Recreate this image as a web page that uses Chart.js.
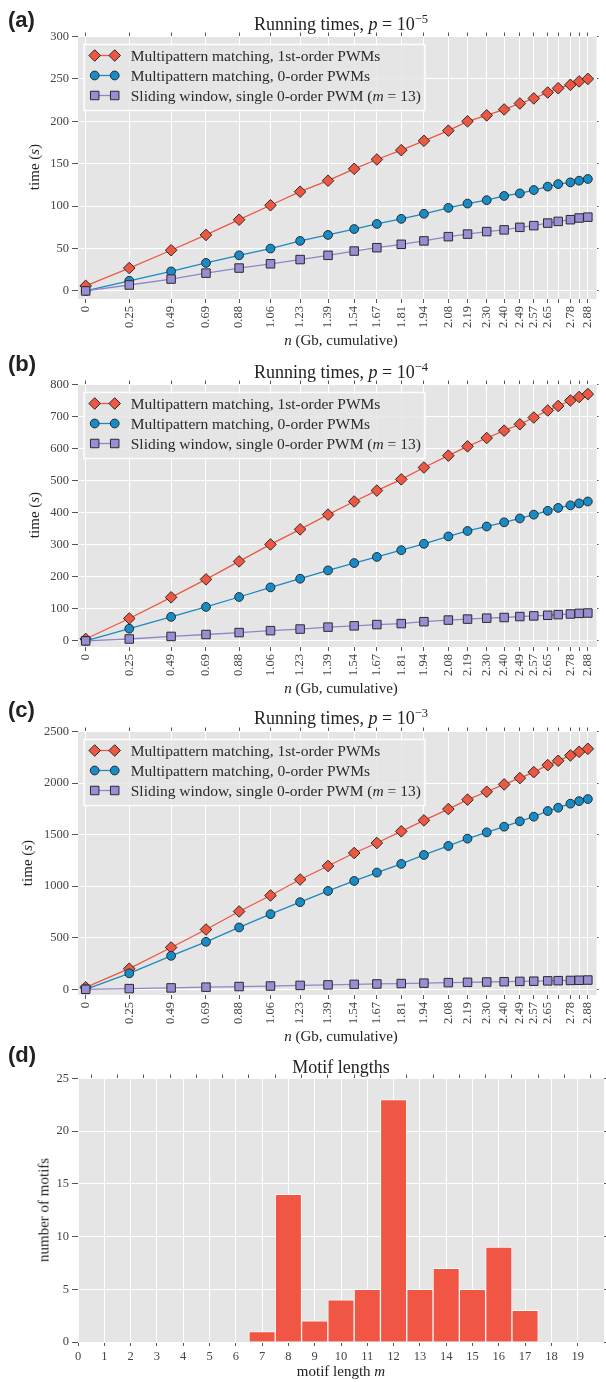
<!DOCTYPE html>
<html><head><meta charset="utf-8">
<script src="https://cdn.jsdelivr.net/npm/chart.js@4.4.1/dist/chart.umd.min.js"></script>
<style>
body{margin:0;width:606px;height:1382px;position:relative;overflow:hidden;background:#fff;font-family:"Liberation Serif",serif;color:#222}
canvas{position:absolute;left:0}
.t{position:absolute;white-space:nowrap;line-height:1;transform:translateX(-50%);left:341px}
.ttl{font-size:18px}
.ax{font-size:15px}
.yl{position:absolute;white-space:nowrap;line-height:1;font-size:15px;transform:translate(-50%,-50%) rotate(-90deg)}
.pl{position:absolute;left:8px;font:bold 22px "Liberation Sans",Arial,sans-serif;line-height:1;color:#222}
sup{font-size:70%;vertical-align:0;position:relative;top:-0.55em}
</style></head>
<body>
<canvas id="ca" width="606" height="313" style="top:26px"></canvas>
<canvas id="cb" width="606" height="313" style="top:374px"></canvas>
<canvas id="cc" width="606" height="314" style="top:721px"></canvas>
<canvas id="cd" width="606" height="298" style="top:1068px"></canvas>

<div class="pl" style="top:9px">(a)</div>
<div class="t ttl" style="top:15px">Running times, <i>p</i> = 10<sup>−5</sup></div>
<div class="yl" style="left:34px;top:167px">time (<i>s</i>)</div>
<div class="t ax" style="top:333px"><i>n</i> (Gb, cumulative)</div>

<div class="pl" style="top:353px">(b)</div>
<div class="t ttl" style="top:363px">Running times, <i>p</i> = 10<sup>−4</sup></div>
<div class="yl" style="left:34px;top:515px">time (<i>s</i>)</div>
<div class="t ax" style="top:681px"><i>n</i> (Gb, cumulative)</div>

<div class="pl" style="top:699px">(c)</div>
<div class="t ttl" style="top:709px">Running times, <i>p</i> = 10<sup>−3</sup></div>
<div class="yl" style="left:27px;top:863px">time (<i>s</i>)</div>
<div class="t ax" style="top:1029px"><i>n</i> (Gb, cumulative)</div>

<div class="pl" style="top:1044px">(d)</div>
<div class="t ttl" style="top:1058px">Motif lengths</div>
<div class="yl" style="left:44px;top:1210px">number of motifs</div>
<div class="t ax" style="top:1364px">motif length <i>m</i></div>

<script>
// cumulative genome size (Gb) at each measurement
const xPos=[0,0.25,0.49,0.69,0.88,1.06,1.23,1.39,1.54,1.67,1.81,1.94,2.08,2.19,2.30,2.40,2.49,2.57,2.65,2.71,2.78,2.83,2.88];
const xTickLabels=["0","0.25","0.49","0.69","0.88","1.06","1.23","1.39","1.54","1.67","1.81","1.94","2.08","2.19","2.30","2.40","2.49","2.57","2.65","","2.78","","2.88"];
const seriesNames=["Multipattern matching, 1st-order PWMs","Multipattern matching, 0-order PWMs","Sliding window, single 0-order PWM (*m* = 13)"];

// p = 1e-5
const first5=[6,27,48,66,84,101,117,130,144,155,166,177,189,200,207,214,221,227,234,239,243,247,250];
const zero5=[0,12,23,33,42,50,59,66,73,79,85,91,98,103,107,112,115,119,123,126,128,130,132];
const slide5=[0,7,14,21,27,32,37,42,47,51,55,59,64,67,70,72,75,77,80,82,84,86,87];
// p = 1e-4
const first4=[6,70,136,192,248,301,348,394,435,469,504,541,578,607,633,656,676,697,719,733,750,761,770];
const zero4=[0,38,75,106,137,167,194,220,243,262,283,303,326,343,357,370,382,394,406,415,423,429,435];
const slide4=[0,6,14,20,26,32,37,43,47,51,54,60,65,68,71,73,76,78,80,82,84,86,87];
// p = 1e-3
const first3=[19,200,406,580,755,910,1065,1196,1322,1419,1532,1638,1748,1839,1916,1987,2048,2106,2174,2216,2268,2303,2332];
const zero3=[0,155,325,461,600,729,845,954,1051,1132,1216,1303,1390,1461,1522,1577,1629,1674,1729,1761,1800,1825,1845];
const slide3=[0,7,14,21,27,32,38,43,48,52,56,60,65,68,71,74,77,79,82,84,86,88,90];

const yTicksA=[0,50,100,150,200,250,300];
const yTicksB=[0,100,200,300,400,500,600,700,800];
const yTicksC=[0,500,1000,1500,2000,2500];

const motifLengths=[7,8,9,10,11,12,13,14,15,16,17];
const motifCounts=[1,14,2,4,5,23,5,7,5,9,3];
const motifTicks=[0,1,2,3,4,5,6,7,8,9,10,11,12,13,14,15,16,17,18,19];
const yTicksD=[0,5,10,15,20,25];

const RED='#EE5843',BLUE='#168DC8',PURPLE='#988ED5',EDGE='#2a2a2a';
const tickFont={family:'"Liberation Serif", serif',size:12.5};

function fixTicks(vals){return s=>{s.ticks=vals.map(v=>({value:v}));};}
function fixW(w){return s=>{s.width=w;};}
function fixH(h){return s=>{s.height=h;};}

function makeScales(xMin,xMax,xTicks,xLabels,rot,yMin,yMax,yTicks,bottomH){
  return {
    x:{type:'linear',position:'bottom',min:xMin,max:xMax,offset:false,
      afterBuildTicks:fixTicks(xTicks),afterFit:fixH(bottomH),
      grid:{color:'#fff',lineWidth:1,tickColor:'#555',tickLength:4,offset:false},border:{display:false},
      ticks:{autoSkip:false,maxRotation:rot,minRotation:rot,padding:3,color:'#444',font:tickFont,
        callback:(v,i)=>xLabels[i]}},
    x2:{type:'linear',position:'top',min:xMin,max:xMax,offset:false,
      afterBuildTicks:fixTicks(xTicks),afterFit:fixH(10),
      grid:{drawOnChartArea:false,tickColor:'#555',tickLength:4},border:{display:false},ticks:{display:false}},
    y:{type:'linear',position:'left',min:yMin,max:yMax,
      afterBuildTicks:fixTicks(yTicks),afterFit:fixW(78),
      grid:{color:'#fff',lineWidth:1,tickColor:'#555',tickLength:6},border:{display:false},
      ticks:{padding:3,color:'#444',font:tickFont,callback:v=>String(v)}},
    y2:{type:'linear',position:'right',min:yMin,max:yMax,
      afterBuildTicks:fixTicks(yTicks),afterFit:fixW(2),
      grid:{drawOnChartArea:false,tickColor:'#555',tickLength:2},border:{display:false},ticks:{display:false}}
  };
}

const bgPlugin={id:'bg',beforeDraw(chart){
  const {ctx,chartArea:a}=chart;
  ctx.save();ctx.fillStyle='#E5E5E5';ctx.fillRect(a.left,a.top,a.right-a.left,a.bottom-a.top);ctx.restore();
}};

function marker(ctx,style,r,x,y,fill,edge){
  ctx.beginPath();
  if(style==='rectRot'){ctx.moveTo(x-r,y);ctx.lineTo(x,y-r);ctx.lineTo(x+r,y);ctx.lineTo(x,y+r);ctx.closePath();}
  else if(style==='rect'){const h=r*Math.SQRT1_2;ctx.rect(x-h,y-h,2*h,2*h);}
  else ctx.arc(x,y,r,0,Math.PI*2);
  ctx.fillStyle=fill;ctx.fill();ctx.strokeStyle=edge;ctx.lineWidth=1;ctx.stroke();
}
function richText(ctx,str,x,y,size){
  str.split('*').forEach((part,i)=>{
    ctx.font=(i%2?'italic ':'')+size+'px "Liberation Serif", serif';
    ctx.fillText(part,x,y);x+=ctx.measureText(part).width;
  });
}
const legendPlugin={id:'lgd',afterDatasetsDraw(chart,args,opts){
  if(!opts.show)return;
  const {ctx,chartArea:a}=chart;
  const L=a.left+6,T=a.top+8,W=341,H=66;
  ctx.save();
  ctx.fillStyle='rgba(229,229,229,0.85)';ctx.fillRect(L,T,W,H);
  ctx.strokeStyle='rgba(255,255,255,0.9)';ctx.lineWidth=1.5;ctx.strokeRect(L,T,W,H);
  chart.data.datasets.forEach((d,i)=>{
    const y=a.top+19+20*i,x1=a.left+16.7,x2=a.left+36.7;
    ctx.strokeStyle=d.borderColor;ctx.lineWidth=d.borderWidth;
    ctx.beginPath();ctx.moveTo(x1,y);ctx.lineTo(x2,y);ctx.stroke();
    marker(ctx,d.pointStyle,d.pointRadius,x1,y,d.pointBackgroundColor,d.pointBorderColor);
    marker(ctx,d.pointStyle,d.pointRadius,x2,y,d.pointBackgroundColor,d.pointBorderColor);
    ctx.fillStyle='#2a2a2a';ctx.textBaseline='alphabetic';
    richText(ctx,seriesNames[i],a.left+52.7,y+5,15.5);
  });
  ctx.restore();
}};

function series(vals,i){
  const styles=[['rectRot',5.8,RED,RED],['circle',4.4,BLUE,'#1a8ac0'],['rect',6,PURPLE,'#8f86c8']];
  const s=styles[i];
  return {label:seriesNames[i],data:xPos.map((x,k)=>({x:x,y:vals[k]})),
    borderColor:s[3],borderWidth:1.3,pointStyle:s[0],pointRadius:s[1],
    pointBackgroundColor:s[2],pointBorderColor:EDGE,pointBorderWidth:1,order:2-i};
}

function runChart(id,sets,yMin,yMax,yTicks){
  new Chart(document.getElementById(id),{
    type:'line',
    data:{datasets:sets.map(series)},
    options:{responsive:false,animation:false,events:[],devicePixelRatio:1,
      layout:{padding:0},
      plugins:{legend:{display:false},tooltip:{enabled:false},lgd:{show:true}},
      scales:makeScales(-0.044,2.93,xPos,xTickLabels,90,yMin,yMax,yTicks,40)},
    plugins:[bgPlugin,legendPlugin]
  });
}

runChart('ca',[first5,zero5,slide5],-9.5,300,yTicksA);
runChart('cb',[first4,zero4,slide4],-19,800,yTicksB);
runChart('cc',[first3,zero3,slide3],-55,2500,yTicksC);

new Chart(document.getElementById('cd'),{
  type:'bar',
  data:{datasets:[{data:motifLengths.map((m,k)=>({x:m,y:motifCounts[k]})),
    backgroundColor:'#F05643',borderColor:'rgba(255,255,255,0.75)',borderWidth:1,
    barPercentage:1,categoryPercentage:1,borderSkipped:'start'}]},
  options:{responsive:false,animation:false,events:[],devicePixelRatio:1,
    layout:{padding:0},
    plugins:{legend:{display:false},tooltip:{enabled:false},lgd:{show:false}},
    scales:makeScales(0,20,motifTicks,motifTicks.map(String),0,0,25,yTicksD,24)},
  plugins:[bgPlugin]
});
</script>
</body></html>
